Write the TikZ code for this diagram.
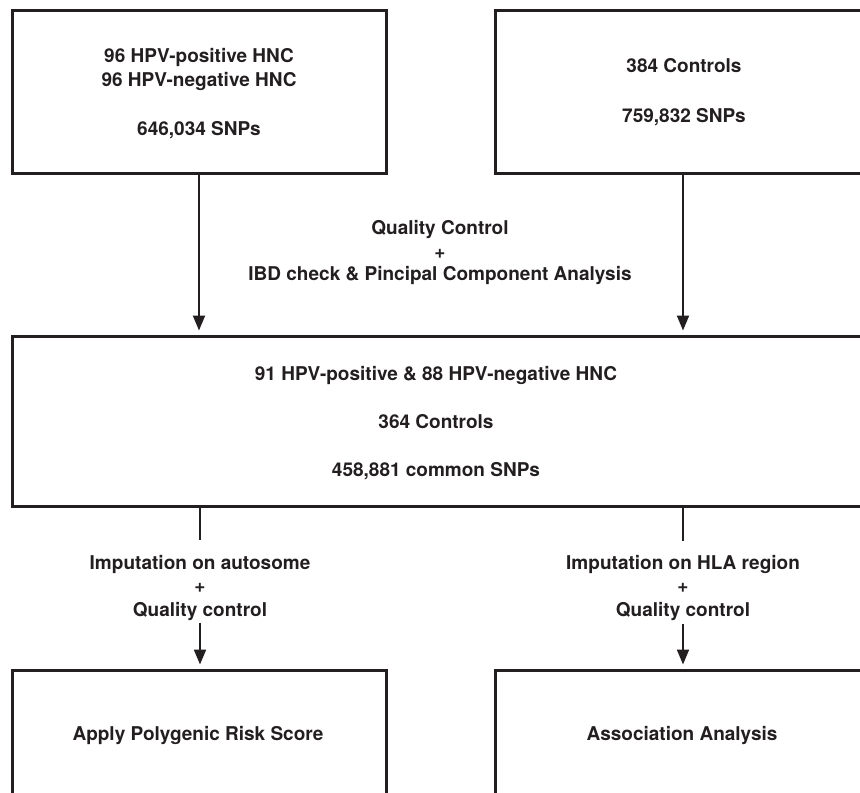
\documentclass[tikz,border=0pt]{standalone}
\usepackage{fontspec}
\setmainfont{TeX Gyre Heros}
\usetikzlibrary{arrows.meta}
\definecolor{ink}{RGB}{35,31,32}
\tikzset{
  box/.style={draw=ink, line width=3pt, rectangle, inner sep=0pt, line join=miter},
  txt/.style={anchor=base, inner sep=0pt, text=ink, font=\fontsize{19}{23}\selectfont\bfseries},
  arr/.style={draw=ink, line width=2pt, -{Triangle[width=12pt,length=15pt]}, shorten >=4pt},
  conn/.style={draw=ink, line width=2pt}
}
\begin{document}
\begin{tikzpicture}[x=1pt,y=-1pt]
\useasboundingbox (0,0) rectangle (860,793);
\clip (0,0) rectangle (860,793);
\fill[white] (0,0) rectangle (860,793);
% boxes
\node[box, minimum width=374pt, minimum height=163pt] (tl) at (199,91.5) {};
\node[box, minimum width=376pt, minimum height=163pt] (tr) at (683,91.5) {};
\node[box, minimum width=856pt, minimum height=170pt] (mid) at (440,421) {};
\node[box, minimum width=374pt, minimum height=126pt] (bl) at (199,733) {};
\node[box, minimum width=376pt, minimum height=126pt] (br) at (683,733) {};
% box texts
\node[txt] (tl1) at (199,62) {96 HPV-positive HNC};
\node[txt] (tl2) at (199,86) {96 HPV-negative HNC};
\node[txt] (tl3) at (199,135) {646,034 SNPs};
\node[txt] (tr1) at (684,72) {384 Controls};
\node[txt] (tr2) at (684,122) {759,832 SNPs};
\node[txt] (m1) at (436,380) {91 HPV-positive \& 88 HPV-negative HNC};
\node[txt] (m2) at (436,428) {364 Controls};
\node[txt] (m3) at (436,476) {458,881 common SNPs};
\node[txt] (b1) at (198,740) {Apply Polygenic Risk Score};
\node[txt] (b2) at (682,740) {Association Analysis};
% connector labels
\node[txt] (q1) at (440,234) {Quality Control};
\node[txt] (q2) at (440,258) {+};
\node[txt] (q3) at (440,280) {IBD check \& Pincipal Component Analysis};
\node[txt] (l1) at (200,569) {Imputation on autosome};
\node[txt] (l2) at (200,592) {+};
\node[txt] (l3) at (200,616) {Quality control};
\node[txt] (r1) at (683,569) {Imputation on HLA region};
\node[txt] (r2) at (683,592) {+};
\node[txt] (r3) at (683,616) {Quality control};
% connectors
\draw[arr] (tl.south) -- (tl.south |- mid.north);
\draw[arr] (tr.south) -- (tr.south |- mid.north);
\coordinate (la) at (200,540);
\coordinate (lb) at (200,623);
\coordinate (ra) at (683,541);
\coordinate (rb) at (683,624);
\draw[conn] (mid.south -| la) -- (la);
\draw[arr] (lb) -- (lb |- bl.north);
\draw[conn] (mid.south -| ra) -- (ra);
\draw[arr] (rb) -- (rb |- br.north);
\end{tikzpicture}
\end{document}
